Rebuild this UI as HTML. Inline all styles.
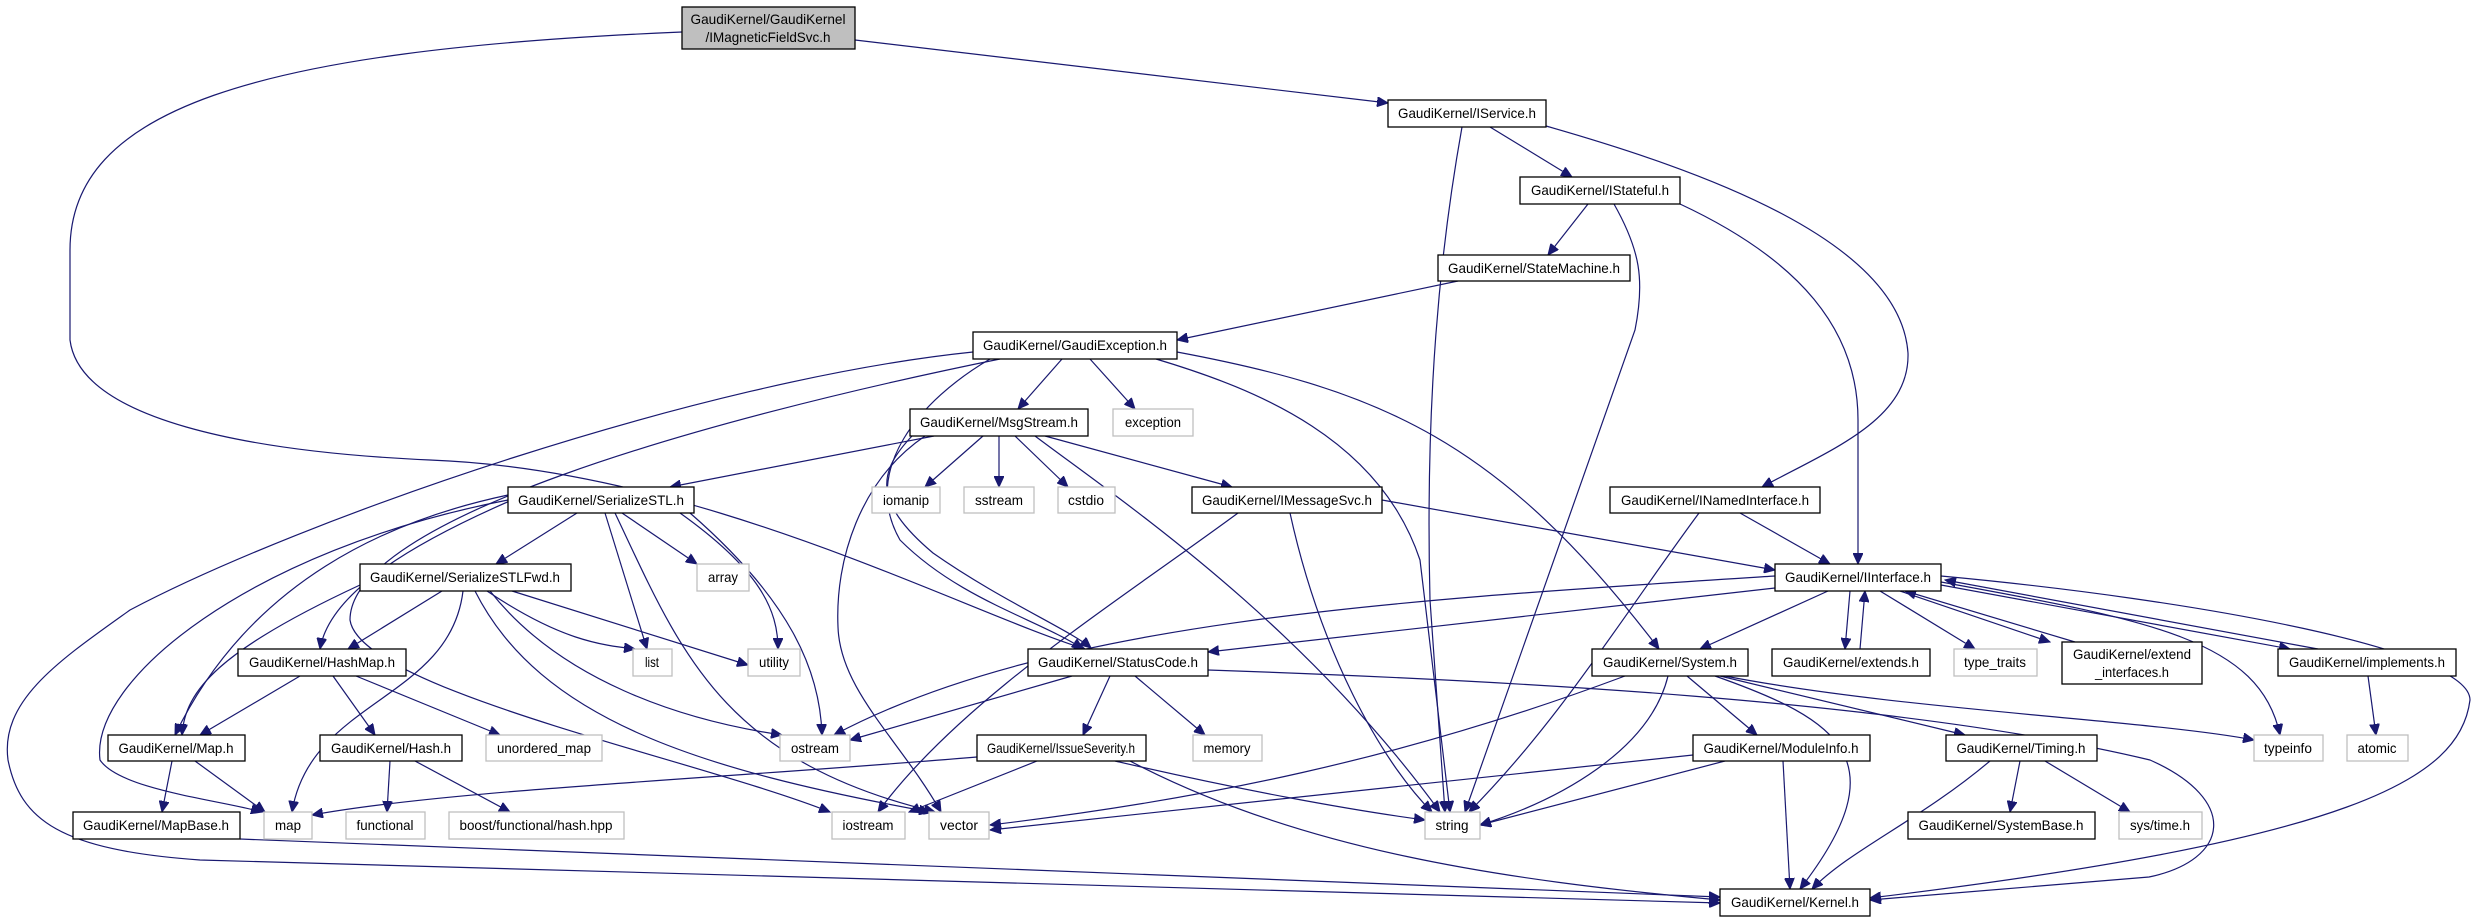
<!DOCTYPE html>
<html><head><meta charset="utf-8"><style>
html,body{margin:0;padding:0;background:#fff;}
svg{display:block;}
text{font-family:"Liberation Sans Narrow","Liberation Sans",sans-serif;font-size:14px;fill:#000;}
.b{fill:#fff;stroke:#000;stroke-width:1.3;}
.g{fill:#fff;stroke:#bfbfbf;stroke-width:1.3;}
.e{fill:none;stroke:#191970;stroke-width:1.2;marker-end:url(#a);}
</style></head><body>
<svg width="2481" height="923" viewBox="0 0 2481 923" xmlns="http://www.w3.org/2000/svg">
<defs><marker id="a" markerUnits="userSpaceOnUse" markerWidth="12" markerHeight="10" refX="11" refY="5" orient="auto"><path d="M0,0 L11,5 L0,10 z" fill="#191970" stroke="#191970"/></marker></defs>
<g>
<path class="e" d="M855,40 L1388,103"/>
<path class="e" d="M682,32 C250,50 70,110 70,250 L70,340 C80,420 250,452 430,460 C700,470 960,610 1085,649"/>
<path class="e" d="M1462,127 C1440,250 1425,400 1430,600 L1445,812"/>
<path class="e" d="M1490,127 L1572,177"/>
<path class="e" d="M1546,126 C1700,170 1900,240 1908,353 C1910,420 1830,450 1762,487"/>
<path class="e" d="M1588,204 L1548,255"/>
<path class="e" d="M1614,204 C1640,250 1645,280 1635,330 L1465,812"/>
<path class="e" d="M1680,204 C1800,260 1858,330 1858,420 L1858,564"/>
<path class="e" d="M1458,281 L1177,340"/>
<path class="e" d="M1062,359 L1018,409"/>
<path class="e" d="M1090,359 L1135,409"/>
<path class="e" d="M1156,359 C1260,390 1380,440 1420,560 L1450,812"/>
<path class="e" d="M1177,352 C1380,390 1500,440 1659,649"/>
<path class="e" d="M990,359 C920,400 860,470 900,540 C960,600 1040,620 1083,649"/>
<path class="e" d="M1000,359 C700,420 350,520 350,620 C360,690 700,760 830,812"/>
<path class="e" d="M973,352 C700,380 300,520 130,610 C60,660 0,700 8,760 C20,820 60,850 200,860 L1720,903"/>
<path class="e" d="M934,436 L670,487"/>
<path class="e" d="M983,436 L925,487"/>
<path class="e" d="M999,436 L999,487"/>
<path class="e" d="M1015,436 L1068,487"/>
<path class="e" d="M1045,436 L1232,487"/>
<path class="e" d="M1035,436 C1120,500 1300,620 1440,812"/>
<path class="e" d="M925,436 C860,480 835,560 838,627 C840,690 900,740 941,812"/>
<path class="e" d="M912,436 C880,470 870,500 933,553 C1000,600 1070,630 1091,648"/>
<path class="e" d="M577,513 L496,564"/>
<path class="e" d="M512,500 C420,540 330,590 320,649"/>
<path class="e" d="M508,495 C390,520 250,580 175,735"/>
<path class="e" d="M508,500 C250,550 90,680 100,760 C120,790 220,800 262,812"/>
<path class="e" d="M622,513 L697,564"/>
<path class="e" d="M605,513 L647,649"/>
<path class="e" d="M680,513 C760,570 778,610 778,649"/>
<path class="e" d="M690,513 C790,600 820,670 822,735"/>
<path class="e" d="M615,513 C680,650 720,760 935,812"/>
<path class="e" d="M442,591 L348,649"/>
<path class="e" d="M360,585 C220,650 185,690 182,735"/>
<path class="e" d="M463,591 C450,700 310,700 292,812"/>
<path class="e" d="M487,591 C560,640 600,645 635,649"/>
<path class="e" d="M512,591 L748,665"/>
<path class="e" d="M490,591 C560,680 680,720 782,735"/>
<path class="e" d="M475,591 C540,720 700,770 930,812"/>
<path class="e" d="M300,676 L200,735"/>
<path class="e" d="M333,676 L375,735"/>
<path class="e" d="M356,676 L500,735"/>
<path class="e" d="M172,761 L162,812"/>
<path class="e" d="M195,761 L265,812"/>
<path class="e" d="M390,761 L387,812"/>
<path class="e" d="M415,761 L510,812"/>
<path class="e" d="M240,839 L1720,897"/>
<path class="e" d="M1072,676 L850,740"/>
<path class="e" d="M1110,676 L1083,735"/>
<path class="e" d="M1135,676 L1205,735"/>
<path class="e" d="M1208,670 C1500,680 1900,700 2150,760 C2240,800 2230,860 2149,877 L1870,900"/>
<path class="e" d="M977,757 C700,780 450,790 312,815"/>
<path class="e" d="M1037,761 L909,812"/>
<path class="e" d="M1115,761 C1240,790 1350,810 1425,820"/>
<path class="e" d="M1130,761 C1300,850 1500,880 1720,900"/>
<path class="e" d="M1382,500 L1775,570"/>
<path class="e" d="M1290,513 C1320,650 1380,760 1432,812"/>
<path class="e" d="M1238,513 C1120,600 960,700 878,812"/>
<path class="e" d="M1740,513 L1830,564"/>
<path class="e" d="M1699,513 C1620,620 1560,720 1469,812"/>
<path class="e" d="M1775,576 C1400,600 1050,620 834,735"/>
<path class="e" d="M1775,588 C1500,620 1300,640 1208,652"/>
<path class="e" d="M1828,591 L1700,649"/>
<path class="e" d="M1850,591 L1845,649"/>
<path class="e" d="M1860,649 L1865,591"/>
<path class="e" d="M1880,591 L1975,649"/>
<path class="e" d="M1900,591 L2050,642"/>
<path class="e" d="M2075,642 L1905,591"/>
<path class="e" d="M1941,585 L2290,649"/>
<path class="e" d="M2318,649 L1945,580"/>
<path class="e" d="M1941,582 C2150,620 2260,640 2280,735"/>
<path class="e" d="M1941,576 C2200,600 2470,650 2470,700 C2460,780 2350,840 1870,898"/>
<path class="e" d="M2368,676 L2376,735"/>
<path class="e" d="M1625,676 C1400,760 1200,800 990,825"/>
<path class="e" d="M1668,676 C1650,750 1560,800 1480,825"/>
<path class="e" d="M1687,676 L1757,735"/>
<path class="e" d="M1720,676 L1965,735"/>
<path class="e" d="M1715,676 C1840,720 1900,760 1800,889"/>
<path class="e" d="M1725,676 C1900,710 2150,720 2254,740"/>
<path class="e" d="M1693,755 L990,830"/>
<path class="e" d="M1725,761 L1480,825"/>
<path class="e" d="M1783,761 L1790,889"/>
<path class="e" d="M2020,761 L2010,812"/>
<path class="e" d="M2045,761 L2130,812"/>
<path class="e" d="M1990,761 C1920,820 1850,850 1812,889"/>
</g>
<g>
<rect x="682" y="7" width="173" height="42" fill="#bfbfbf" stroke="#000" stroke-width="1.3"/>
<text x="768" y="24" text-anchor="middle" textLength="155" lengthAdjust="spacingAndGlyphs">GaudiKernel/GaudiKernel</text>
<text x="768" y="42" text-anchor="middle" textLength="125" lengthAdjust="spacingAndGlyphs">/IMagneticFieldSvc.h</text>

<rect class="b" x="1388" y="100" width="158" height="27"/><text x="1467" y="118" text-anchor="middle" textLength="138" lengthAdjust="spacingAndGlyphs">GaudiKernel/IService.h</text>
<rect class="b" x="1520" y="177" width="160" height="27"/><text x="1600" y="195" text-anchor="middle" textLength="138" lengthAdjust="spacingAndGlyphs">GaudiKernel/IStateful.h</text>
<rect class="b" x="1438" y="255" width="192" height="26"/><text x="1534" y="273" text-anchor="middle" textLength="172" lengthAdjust="spacingAndGlyphs">GaudiKernel/StateMachine.h</text>
<rect class="b" x="973" y="332" width="204" height="27"/><text x="1075" y="350" text-anchor="middle" textLength="184" lengthAdjust="spacingAndGlyphs">GaudiKernel/GaudiException.h</text>
<rect class="b" x="910" y="409" width="178" height="27"/><text x="999" y="427" text-anchor="middle" textLength="158" lengthAdjust="spacingAndGlyphs">GaudiKernel/MsgStream.h</text>
<rect class="g" x="1113" y="409" width="80" height="27"/><text x="1153" y="427" text-anchor="middle" textLength="56" lengthAdjust="spacingAndGlyphs">exception</text>

<rect class="b" x="508" y="487" width="186" height="26"/><text x="601" y="505" text-anchor="middle" textLength="166" lengthAdjust="spacingAndGlyphs">GaudiKernel/SerializeSTL.h</text>
<rect class="g" x="872" y="487" width="68" height="26"/><text x="906" y="505" text-anchor="middle" textLength="46" lengthAdjust="spacingAndGlyphs">iomanip</text>
<rect class="g" x="964" y="487" width="70" height="26"/><text x="999" y="505" text-anchor="middle" textLength="48" lengthAdjust="spacingAndGlyphs">sstream</text>
<rect class="g" x="1058" y="487" width="57" height="26"/><text x="1086" y="505" text-anchor="middle" textLength="36" lengthAdjust="spacingAndGlyphs">cstdio</text>
<rect class="b" x="1192" y="487" width="190" height="26"/><text x="1287" y="505" text-anchor="middle" textLength="170" lengthAdjust="spacingAndGlyphs">GaudiKernel/IMessageSvc.h</text>
<rect class="b" x="1610" y="487" width="210" height="26"/><text x="1715" y="505" text-anchor="middle" textLength="188" lengthAdjust="spacingAndGlyphs">GaudiKernel/INamedInterface.h</text>

<rect class="b" x="360" y="564" width="211" height="27"/><text x="465" y="582" text-anchor="middle" textLength="190" lengthAdjust="spacingAndGlyphs">GaudiKernel/SerializeSTLFwd.h</text>
<rect class="g" x="697" y="564" width="52" height="27"/><text x="723" y="582" text-anchor="middle" textLength="30" lengthAdjust="spacingAndGlyphs">array</text>
<rect class="b" x="1775" y="564" width="166" height="27"/><text x="1858" y="582" text-anchor="middle" textLength="146" lengthAdjust="spacingAndGlyphs">GaudiKernel/IInterface.h</text>

<rect class="b" x="238" y="649" width="168" height="27"/><text x="322" y="667" text-anchor="middle" textLength="146" lengthAdjust="spacingAndGlyphs">GaudiKernel/HashMap.h</text>
<rect class="g" x="633" y="649" width="39" height="27"/><text x="652" y="667" text-anchor="middle" textLength="14" lengthAdjust="spacingAndGlyphs">list</text>
<rect class="g" x="748" y="649" width="52" height="27"/><text x="774" y="667" text-anchor="middle" textLength="30" lengthAdjust="spacingAndGlyphs">utility</text>
<rect class="b" x="1028" y="649" width="180" height="27"/><text x="1118" y="667" text-anchor="middle" textLength="160" lengthAdjust="spacingAndGlyphs">GaudiKernel/StatusCode.h</text>
<rect class="b" x="1592" y="649" width="156" height="27"/><text x="1670" y="667" text-anchor="middle" textLength="134" lengthAdjust="spacingAndGlyphs">GaudiKernel/System.h</text>
<rect class="b" x="1772" y="649" width="158" height="27"/><text x="1851" y="667" text-anchor="middle" textLength="136" lengthAdjust="spacingAndGlyphs">GaudiKernel/extends.h</text>
<rect class="g" x="1954" y="649" width="83" height="27"/><text x="1995" y="667" text-anchor="middle" textLength="62" lengthAdjust="spacingAndGlyphs">type_traits</text>
<rect class="b" x="2062" y="642" width="140" height="42"/><text x="2132" y="659" text-anchor="middle" textLength="118" lengthAdjust="spacingAndGlyphs">GaudiKernel/extend</text><text x="2132" y="677" text-anchor="middle" textLength="74" lengthAdjust="spacingAndGlyphs">_interfaces.h</text>
<rect class="b" x="2278" y="649" width="178" height="27"/><text x="2367" y="667" text-anchor="middle" textLength="156" lengthAdjust="spacingAndGlyphs">GaudiKernel/implements.h</text>

<rect class="b" x="108" y="735" width="137" height="26"/><text x="176" y="753" text-anchor="middle" textLength="115" lengthAdjust="spacingAndGlyphs">GaudiKernel/Map.h</text>
<rect class="b" x="320" y="735" width="142" height="26"/><text x="391" y="753" text-anchor="middle" textLength="120" lengthAdjust="spacingAndGlyphs">GaudiKernel/Hash.h</text>
<rect class="g" x="486" y="735" width="116" height="26"/><text x="544" y="753" text-anchor="middle" textLength="94" lengthAdjust="spacingAndGlyphs">unordered_map</text>
<rect class="g" x="780" y="735" width="70" height="26"/><text x="815" y="753" text-anchor="middle" textLength="48" lengthAdjust="spacingAndGlyphs">ostream</text>
<rect class="b" x="977" y="735" width="169" height="26"/><text x="1061" y="753" text-anchor="middle" textLength="148" lengthAdjust="spacingAndGlyphs">GaudiKernel/IssueSeverity.h</text>
<rect class="g" x="1193" y="735" width="69" height="26"/><text x="1227" y="753" text-anchor="middle" textLength="47" lengthAdjust="spacingAndGlyphs">memory</text>
<rect class="b" x="1693" y="735" width="177" height="26"/><text x="1781" y="753" text-anchor="middle" textLength="155" lengthAdjust="spacingAndGlyphs">GaudiKernel/ModuleInfo.h</text>
<rect class="b" x="1946" y="735" width="151" height="26"/><text x="2021" y="753" text-anchor="middle" textLength="129" lengthAdjust="spacingAndGlyphs">GaudiKernel/Timing.h</text>
<rect class="g" x="2254" y="735" width="69" height="26"/><text x="2288" y="753" text-anchor="middle" textLength="48" lengthAdjust="spacingAndGlyphs">typeinfo</text>
<rect class="g" x="2347" y="735" width="61" height="26"/><text x="2377" y="753" text-anchor="middle" textLength="39" lengthAdjust="spacingAndGlyphs">atomic</text>

<rect class="b" x="73" y="812" width="167" height="27"/><text x="156" y="830" text-anchor="middle" textLength="146" lengthAdjust="spacingAndGlyphs">GaudiKernel/MapBase.h</text>
<rect class="g" x="264" y="812" width="48" height="27"/><text x="288" y="830" text-anchor="middle" textLength="26" lengthAdjust="spacingAndGlyphs">map</text>
<rect class="g" x="346" y="812" width="79" height="27"/><text x="385" y="830" text-anchor="middle" textLength="57" lengthAdjust="spacingAndGlyphs">functional</text>
<rect class="g" x="449" y="812" width="175" height="27"/><text x="536" y="830" text-anchor="middle" textLength="153" lengthAdjust="spacingAndGlyphs">boost/functional/hash.hpp</text>
<rect class="g" x="832" y="812" width="73" height="27"/><text x="868" y="830" text-anchor="middle" textLength="51" lengthAdjust="spacingAndGlyphs">iostream</text>
<rect class="g" x="929" y="812" width="60" height="27"/><text x="959" y="830" text-anchor="middle" textLength="38" lengthAdjust="spacingAndGlyphs">vector</text>
<rect class="g" x="1425" y="812" width="55" height="27"/><text x="1452" y="830" text-anchor="middle" textLength="33" lengthAdjust="spacingAndGlyphs">string</text>
<rect class="b" x="1908" y="812" width="187" height="27"/><text x="2001" y="830" text-anchor="middle" textLength="165" lengthAdjust="spacingAndGlyphs">GaudiKernel/SystemBase.h</text>
<rect class="g" x="2119" y="812" width="83" height="27"/><text x="2160" y="830" text-anchor="middle" textLength="60" lengthAdjust="spacingAndGlyphs">sys/time.h</text>

<rect class="b" x="1720" y="889" width="150" height="27"/><text x="1795" y="907" text-anchor="middle" textLength="128" lengthAdjust="spacingAndGlyphs">GaudiKernel/Kernel.h</text>
</g>
</svg>
</body></html>
